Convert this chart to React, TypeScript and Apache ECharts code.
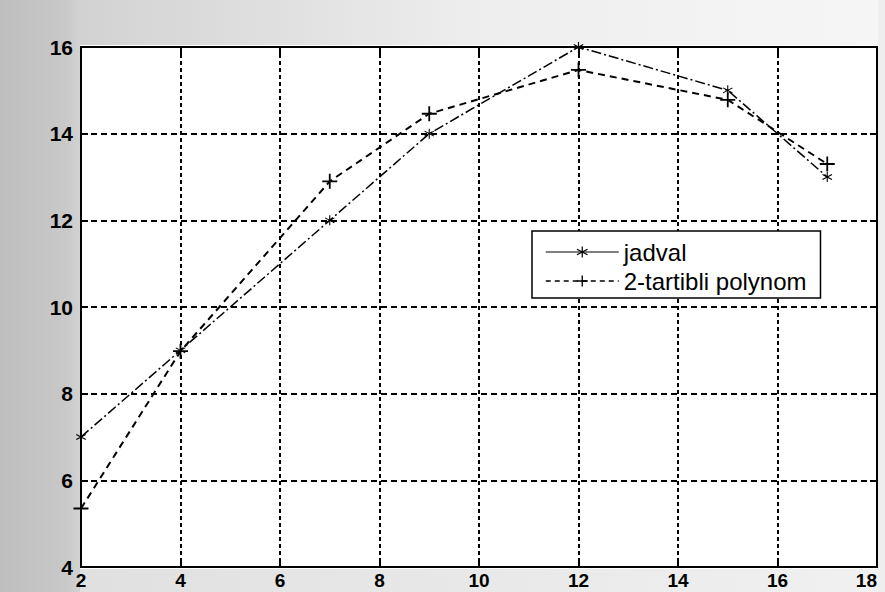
import React, { useEffect, useRef } from "react";
import * as echarts from "echarts";

const xValues = [2, 4, 7, 9, 12, 15, 17];
const jadvalValues = [7, 9, 12, 14, 16, 15, 13];
const polynomValues = [5.35, 8.98, 12.9, 14.46, 15.47, 14.78, 13.3];
const seriesNames = ["jadval", "2-tartibli polynom"];
const xTicks = { min: 2, max: 18, interval: 2 };
const yTicks = { min: 4, max: 16, interval: 2 };

const STAR =
  "path://M4.5,0H5.5V10H4.5Z M0.42,2.93L0.92,2.07L9.58,7.07L9.08,7.93Z M0.92,7.93L0.42,7.07L9.08,2.07L9.58,2.93Z";
const PLUS = "path://M0,4.4H10V5.6H0Z M4.4,0H5.6V10H4.4Z";

const FONT = "'Liberation Sans', Arial, Helvetica, sans-serif";

export default function App() {
  const ref = useRef<HTMLDivElement>(null);
  useEffect(() => {
    if (!ref.current) return;
    const chart = echarts.init(ref.current, null, { renderer: "svg" });
    const pairs = (ys: number[]) => xValues.map((x, i) => [x, ys[i]]);
    const axisCommon = {
      axisLine: { show: true, lineStyle: { color: "#000", width: 2 } },
      axisTick: { show: true, inside: true, length: 7, lineStyle: { color: "#000", width: 2 } },
    };
    chart.setOption({
      animation: false,
      backgroundColor: "#ffffff",
      textStyle: { fontFamily: FONT },
      graphic: [
        {
          type: "rect",
          shape: { x: 79, y: 0, width: 806, height: 45 },
          style: {
            fill: new echarts.graphic.LinearGradient(0, 0, 1, 0, [
              { offset: 0, color: "#d2d2d2" },
              { offset: 0.5, color: "#eeeeee" },
              { offset: 1, color: "#f6f6f6" },
            ]),
          },
          z: -10,
        },
        {
          type: "rect",
          shape: { x: 79, y: 569, width: 806, height: 23 },
          style: {
            fill: new echarts.graphic.LinearGradient(0, 0, 1, 0, [
              { offset: 0, color: "#e0e0e0" },
              { offset: 1, color: "#f1f1f1" },
            ]),
          },
          z: -10,
        },
        {
          type: "rect",
          shape: { x: 878, y: 0, width: 7, height: 592 },
          style: { fill: "#eeeeee" },
          z: -10,
        },
        {
          type: "rect",
          shape: { x: 0, y: 0, width: 80, height: 592 },
          style: {
            fill: new echarts.graphic.LinearGradient(0, 0, 1, 0, [
              { offset: 0, color: "#bebebe" },
              { offset: 0.8, color: "#c8c8c8" },
              { offset: 1, color: "#d2d2d2" },
            ]),
          },
          z: -10,
        },
      ],
      grid: {
        left: 81,
        top: 47,
        right: 8,
        bottom: 25,
        containLabel: false,
        outerBoundsMode: "none",
        show: true,
        backgroundColor: "#ffffff",
        borderColor: "#000",
        borderWidth: 2,
      },
      legend: {
        show: true,
        orient: "vertical",
        left: 532,
        top: 231,
        padding: [9, 14, 5, 13],
        itemGap: 5,
        itemWidth: 73,
        itemHeight: 14,
        backgroundColor: "#ffffff",
        borderColor: "#000",
        borderWidth: 1.5,
        borderRadius: 0,
        textStyle: { fontSize: 24, color: "#000", fontFamily: FONT, lineHeight: 23 },
        data: [
          { name: seriesNames[0], lineStyle: { type: "solid", width: 1 } },
          { name: seriesNames[1], lineStyle: { type: [5, 4], width: 1.5 } },
        ],
      },
      xAxis: [
        {
          type: "value",
          min: xTicks.min,
          max: xTicks.max,
          interval: xTicks.interval,
          position: "bottom",
          ...axisCommon,
          axisLabel: {
            color: "#000",
            fontSize: 19,
            fontWeight: "bold",
            fontFamily: FONT,
            margin: 3,
            lineHeight: 20,
            alignMaxLabel: "right",
          },
          splitLine: { show: true, lineStyle: { color: "#000", width: 2, type: [4, 3] } },
        },
        {
          type: "value",
          min: xTicks.min,
          max: xTicks.max,
          interval: xTicks.interval,
          position: "top",
          ...axisCommon,
          axisLabel: { show: false },
          splitLine: { show: false },
        },
      ],
      yAxis: [
        {
          type: "value",
          min: yTicks.min,
          max: yTicks.max,
          interval: yTicks.interval,
          position: "left",
          ...axisCommon,
          axisLabel: {
            color: "#000",
            fontSize: 21,
            fontWeight: "bold",
            fontFamily: FONT,
            margin: 8,
          },
          splitLine: { show: true, lineStyle: { color: "#000", width: 2, type: [6, 4] } },
        },
        {
          type: "value",
          min: yTicks.min,
          max: yTicks.max,
          interval: yTicks.interval,
          position: "right",
          ...axisCommon,
          axisLabel: { show: false },
          splitLine: { show: false },
        },
      ],
      series: [
        {
          name: seriesNames[0],
          type: "line",
          data: pairs(jadvalValues),
          symbol: STAR,
          symbolSize: 10,
          showSymbol: true,
          itemStyle: { color: "#000" },
          lineStyle: { color: "#000", width: 1.5, type: [10, 3, 2, 3] },
          z: 5,
        },
        {
          name: seriesNames[1],
          type: "line",
          data: pairs(polynomValues),
          symbol: PLUS,
          symbolSize: 15,
          showSymbol: true,
          itemStyle: { color: "#000" },
          lineStyle: { color: "#000", width: 2, type: [7, 5] },
          z: 5,
        },
      ],
    });
    return () => chart.dispose();
  }, []);
  return (
    <div
      ref={ref}
      style={{ position: "fixed", left: 0, top: 0, width: 885, height: 592 }}
    />
  );
}
